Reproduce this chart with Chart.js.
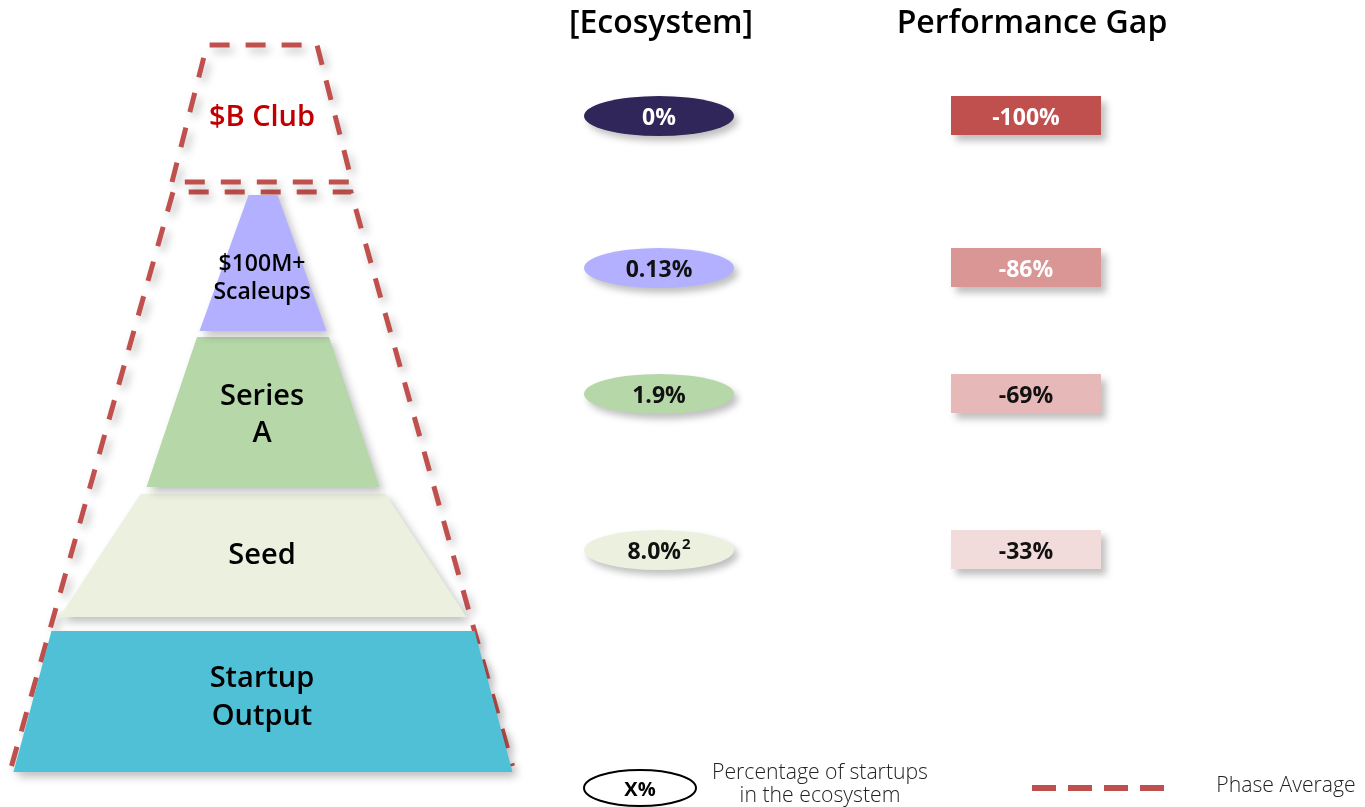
<!DOCTYPE html>
<html>
<head>
<meta charset="utf-8">
<script src="https://cdn.jsdelivr.net/npm/chart.js@4.4.1/dist/chart.umd.min.js"></script>
<style>
  html, body { margin: 0; padding: 0; background: #fff; overflow: hidden; }
  #wrap { width: 1365px; height: 807px; }
</style>
</head>
<body>
<div id="wrap"><canvas id="pyramidChart" width="1365" height="807"></canvas></div>
<script>
// --- data (top of the pyramid first) ---
const tierNames = ['$B Club', '$100M+\nScaleups', 'Series\nA', 'Seed', 'Startup\nOutput'];
const ecosystemShare = ['0%', '0.13%', '1.9%', '8.0%'];
const shareNotes = ['', '', '', '2'];
const performanceGap = [-100, -86, -69, -33];
const columnTitles = ['[Ecosystem]', 'Performance Gap'];
const legendLabels = ['Percentage of startups\nin the ecosystem', 'Phase Average'];
const legendSample = 'X%';

// --- layout, in units of the hidden linear scales ---
const tierCenter = 263;
const tierTop = [195, 337, 494, 631];
const tierBottom = [331, 487, 617, 772];
const tierHalfTop = [14.5, 66, 122.5, 211.5];
const tierHalfBottom = [63.5, 116.5, 203.5, 249.5];
const tierFontSize = [29, 23, 29, 29, 29];
const tierLineGap = [0, 28, 37, 0, 38];
const labelY = [116, 276, 413, 554, 696];

const phaseCenter = 262;
const phaseTop = [45, 192];
const phaseBottom = [182, 766];
const phaseHalfTop = [55, 89];
const phaseHalfBottom = [90, 250.5];

const rowY = [116, 268, 394, 550];
const shareX = 659, gapX = 1026;
const titleX = [661, 1032], titleY = 22;

// --- styles ---
const redColor = '#C0504D';
const tierColors = ['#B3B0FF', '#B6D7A8', '#EBF1DE', '#4FC0D6'];
const shareColors = ['#312659', '#B3B0FF', '#B6D7A8', '#EBF1DE'];
const shareText = ['#ffffff', '#111111', '#111111', '#111111'];
const gapColors = ['#C0504D', '#D99694', '#E6B9B8', '#F2DCDB'];
const gapText = ['#ffffff', '#ffffff', '#111111', '#111111'];
const FONT = "'Open Sans', 'Noto Sans', sans-serif";
const textNudge = 2; // middle baseline sits a bit high in Open Sans

// trapezoid outline, leftmost point first so the fill clip covers it
const trapezoid = (cx, top, bottom, hTop, hBottom) => [
    { x: cx - hBottom, y: bottom },
    { x: cx - hTop, y: top },
    { x: cx + hTop, y: top },
    { x: cx + hBottom, y: bottom }
];

const datasets = [];

// pyramid tiers (below the $B club)
tierTop.forEach((t, i) => {
    datasets.push({
        type: 'line',
        data: trapezoid(tierCenter, t, tierBottom[i], tierHalfTop[i], tierHalfBottom[i]),
        fill: 'shape',
        backgroundColor: tierColors[i],
        borderColor: 'rgba(0,0,0,0)',
        borderWidth: 0,
        pointRadius: 0,
        tension: 0
    });
});

// dashed phase outlines
phaseTop.forEach((t, i) => {
    const pts = trapezoid(phaseCenter, t, phaseBottom[i], phaseHalfTop[i], phaseHalfBottom[i]);
    if (i === 0) pts.push(pts[0]); // small one is closed
    datasets.push({
        type: 'line',
        data: pts,
        fill: false,
        borderColor: redColor,
        borderWidth: 5,
        borderDash: [20, 16],
        borderCapStyle: 'butt',
        borderJoinStyle: 'miter',
        pointRadius: 0,
        tension: 0
    });
});

// legend dash sample
datasets.push({
    type: 'line',
    data: [{ x: 1032, y: 788 }, { x: 1165, y: 788 }],
    fill: false,
    borderColor: redColor,
    borderWidth: 6,
    borderDash: [24, 12],
    borderCapStyle: 'butt',
    pointRadius: 0,
    noShadow: true
});

const setShadow = (ctx, blur, dx, dy, alpha) => {
    ctx.shadowColor = `rgba(0,0,0,${alpha})`;
    ctx.shadowBlur = blur;
    ctx.shadowOffsetX = dx;
    ctx.shadowOffsetY = dy;
};

const shadowPlugin = {
    id: 'softShadow',
    beforeDatasetsDraw(chart) {
        chart.ctx.save();
        setShadow(chart.ctx, 8, 4, 5, 0.25);
    },
    beforeDatasetDraw(chart, args) {
        if (args.meta._dataset.noShadow) {
            chart.ctx.save();
            chart.ctx.shadowColor = 'rgba(0,0,0,0)';
        }
    },
    afterDatasetDraw(chart, args) {
        if (args.meta._dataset.noShadow) chart.ctx.restore();
    },
    afterDatasetsDraw(chart) {
        chart.ctx.restore();
    }
};

const labelPlugin = {
    id: 'labels',
    afterDatasetsDraw(chart) {
        const ctx = chart.ctx;
        const X = v => chart.scales.x.getPixelForValue(v);
        const Y = v => chart.scales.y.getPixelForValue(v);

        // ecosystem ellipses
        ecosystemShare.forEach((s, i) => {
            ctx.save();
            setShadow(ctx, 7, 4, 5, 0.25);
            ctx.fillStyle = shareColors[i];
            ctx.beginPath();
            ctx.ellipse(X(shareX), Y(rowY[i]), X(shareX + 75) - X(shareX), Y(rowY[i] + 20) - Y(rowY[i]), 0, 0, Math.PI * 2);
            ctx.fill();
            ctx.restore();
        });

        // performance gap boxes
        performanceGap.forEach((g, i) => {
            ctx.save();
            setShadow(ctx, 7, 5, 6, 0.25);
            ctx.fillStyle = gapColors[i];
            const x0 = X(gapX - 75), y0 = Y(rowY[i] - 20);
            ctx.fillRect(x0, y0, X(gapX + 75) - x0, Y(rowY[i] + 19) - y0);
            ctx.restore();
        });

        // legend ellipse
        ctx.save();
        ctx.strokeStyle = '#000';
        ctx.lineWidth = 2;
        ctx.beginPath();
        ctx.ellipse(X(640), Y(788), X(696) - X(640), Y(806) - Y(788), 0, 0, Math.PI * 2);
        ctx.stroke();
        ctx.restore();

        ctx.save();
        ctx.textAlign = 'center';
        ctx.textBaseline = 'middle';

        // column titles
        ctx.fillStyle = '#000';
        ctx.font = `600 32px ${FONT}`;
        columnTitles.forEach((t, i) => ctx.fillText(t, X(titleX[i]), Y(titleY + textNudge)));

        // tier names
        tierNames.forEach((name, i) => {
            const lines = name.split('\n');
            ctx.font = `600 ${tierFontSize[i]}px ${FONT}`;
            ctx.fillStyle = i === 0 ? '#C00000' : '#000';
            lines.forEach((ln, k) => {
                const off = (k - (lines.length - 1) / 2) * tierLineGap[i];
                ctx.fillText(ln, X(tierCenter - 1), Y(labelY[i] + off + textNudge));
            });
        });

        // ecosystem values
        ecosystemShare.forEach((s, i) => {
            ctx.fillStyle = shareText[i];
            ctx.font = `bold 23px ${FONT}`;
            const w = ctx.measureText(s).width;
            ctx.font = `bold 15px ${FONT}`;
            const nw = shareNotes[i] ? ctx.measureText(shareNotes[i]).width + 1 : 0;
            const left = X(shareX) - (w + nw) / 2;
            ctx.textAlign = 'left';
            ctx.font = `bold 23px ${FONT}`;
            ctx.fillText(s, left, Y(rowY[i] + textNudge));
            if (nw) {
                ctx.font = `bold 15px ${FONT}`;
                ctx.fillText(shareNotes[i], left + w + 1, Y(rowY[i] - 5));
            }
            ctx.textAlign = 'center';
        });

        // gap values
        ctx.font = `bold 23px ${FONT}`;
        performanceGap.forEach((g, i) => {
            ctx.fillStyle = gapText[i];
            ctx.fillText(`${g}%`, X(gapX), Y(rowY[i] + textNudge));
        });

        // legend
        ctx.fillStyle = '#000';
        ctx.font = `bold 20px ${FONT}`;
        ctx.fillText(legendSample, X(640), Y(790));

        const condensed = (text, cx, cy, squeeze) => {
            ctx.save();
            ctx.translate(X(cx), Y(cy));
            ctx.scale(squeeze, 1);
            ctx.fillText(text, 0, 0);
            ctx.restore();
        };
        ctx.font = `300 22px ${FONT}`;
        ctx.fillStyle = '#222';
        const squeeze = 216 / ctx.measureText('Percentage of startups').width;
        const legLines = legendLabels[0].split('\n');
        condensed(legLines[0], 820, 773, squeeze);
        condensed(legLines[1], 820, 796, squeeze);
        condensed(legendLabels[1], 1286, 786, squeeze);
        ctx.restore();
    }
};

new Chart(document.getElementById('pyramidChart'), {
    type: 'scatter',
    data: { datasets },
    options: {
        responsive: false,
        animation: false,
        layout: { padding: 0 },
        plugins: {
            legend: { display: false },
            tooltip: { enabled: false }
        },
        scales: {
            x: { type: 'linear', min: 0, max: 1365, display: false },
            y: { type: 'linear', min: 0, max: 807, reverse: true, display: false }
        }
    },
    plugins: [shadowPlugin, labelPlugin]
});
</script>
</body>
</html>
